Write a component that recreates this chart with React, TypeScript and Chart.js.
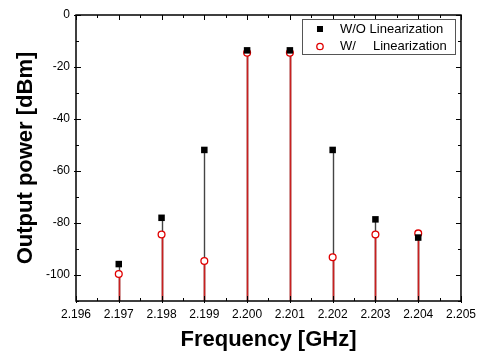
import React, { useEffect, useRef } from "react";
import { Chart, registerables } from "chart.js";
Chart.register(...registerables);

const frequencies = [2.197, 2.198, 2.199, 2.2, 2.201, 2.202, 2.203, 2.204];
const withoutLin = [-95.8, -78, -51.9, -13.6, -13.6, -51.9, -78.6, -85.6];
const withLin = [-99.6, -84.4, -94.6, -14.5, -14.5, -93.2, -84.4, -84.0];
const xTicks = [2.196, 2.197, 2.198, 2.199, 2.2, 2.201, 2.202, 2.203, 2.204, 2.205];
const yTicks = [-100, -80, -60, -40, -20, 0];
const xMinorTicks = [2.1965, 2.1975, 2.1985, 2.1995, 2.2005, 2.2015, 2.2025, 2.2035, 2.2045];
const yMinorTicks = [-110, -90, -70, -50, -30, -10];
const seriesLabels = ["W/O Linearization", "W/    Linearization"];
const X_MIN = 2.196, X_MAX = 2.205, Y_MIN = -110, Y_MAX = 0;

const BLACK = "#000000";
const RED = "#e00000";
const STEM_RED = "#c82020";
const FONT = "'Liberation Sans', Arial, sans-serif";

const framePlugin = {
  id: "frame",
  beforeDatasetsDraw(chart: any) {
    const { ctx } = chart;
    const xs = chart.scales.x;
    const ys = chart.scales.y;
    const base = ys.getPixelForValue(Y_MIN);
    ctx.save();
    ctx.strokeStyle = "#444444";
    ctx.lineWidth = 1.4;
    frequencies.forEach((f, i) => {
      const px = Math.round(xs.getPixelForValue(f)) + 0.5;
      ctx.beginPath();
      ctx.moveTo(px, base);
      ctx.lineTo(px, ys.getPixelForValue(withoutLin[i]));
      ctx.stroke();
    });
    ctx.strokeStyle = STEM_RED;
    ctx.lineWidth = 1.7;
    frequencies.forEach((f, i) => {
      const px = Math.round(xs.getPixelForValue(f)) + 0.5;
      ctx.beginPath();
      ctx.moveTo(px, base);
      ctx.lineTo(px, ys.getPixelForValue(withLin[i]));
      ctx.stroke();
    });
    ctx.restore();
  },
  afterDraw(chart: any) {
    const { ctx, chartArea: a } = chart;
    const xs = chart.scales.x;
    const ys = chart.scales.y;
    ctx.save();
    ctx.strokeStyle = BLACK;
    ctx.lineWidth = 1.5;
    ctx.strokeRect(a.left, a.top, a.right - a.left, a.bottom - a.top);
    ctx.lineWidth = 1;
    const vt = (x: number, y0: number, y1: number) => {
      const px = Math.round(x) + 0.5;
      ctx.beginPath(); ctx.moveTo(px, y0); ctx.lineTo(px, y1); ctx.stroke();
    };
    const ht = (y: number, x0: number, x1: number) => {
      const py = Math.round(y) + 0.5;
      ctx.beginPath(); ctx.moveTo(x0, py); ctx.lineTo(x1, py); ctx.stroke();
    };
    xTicks.forEach((v) => {
      const px = xs.getPixelForValue(v);
      vt(px, a.bottom + 2, a.bottom - 5);
      vt(px, a.top, a.top + 5);
    });
    xMinorTicks.forEach((v) => {
      const px = xs.getPixelForValue(v);
      vt(px, a.bottom, a.bottom - 3);
      vt(px, a.top, a.top + 3);
    });
    yTicks.forEach((v) => {
      const py = ys.getPixelForValue(v);
      ht(py, a.left - 2, a.left + 5);
      ht(py, a.right, a.right - 5);
    });
    yMinorTicks.forEach((v) => {
      const py = ys.getPixelForValue(v);
      ht(py, a.left, a.left + 3);
      ht(py, a.right, a.right - 3);
    });
    // legend
    const bx = a.right - 159, by = a.top + 4, bw = 153, bh = 35;
    ctx.strokeStyle = "#555";
    ctx.lineWidth = 1;
    ctx.strokeRect(Math.round(bx) + 0.5, Math.round(by) + 0.5, bw, bh);
    ctx.font = `13px ${FONT}`;
    ctx.textBaseline = "middle";
    ctx.fillStyle = BLACK;
    const r1 = by + 10, r2 = by + 27.5;
    ctx.fillRect(bx + 15, r1 - 3, 6, 6);
    ctx.fillText(seriesLabels[0], bx + 38, r1);
    ctx.beginPath();
    ctx.arc(bx + 18, r2, 3.2, 0, Math.PI * 2);
    ctx.fillStyle = "#fff";
    ctx.fill();
    ctx.strokeStyle = RED;
    ctx.lineWidth = 1.3;
    ctx.stroke();
    ctx.fillStyle = BLACK;
    ctx.fillText("W/", bx + 38, r2);
    ctx.fillText("Linearization", bx + 71, r2);
    ctx.restore();
  },
};

export default function App() {
  const ref = useRef<HTMLCanvasElement | null>(null);
  useEffect(() => {
    if (!ref.current) return;
    const chart = new Chart(ref.current, {
      type: "scatter",
      data: {
        datasets: [
          {
            label: seriesLabels[0],
            data: frequencies.map((f, i) => ({ x: f, y: withoutLin[i] })),
            pointStyle: "rect",
            pointRadius: 4.6,
            backgroundColor: BLACK,
            borderColor: BLACK,
            borderWidth: 0,
          },
          {
            label: seriesLabels[1],
            data: frequencies.map((f, i) => ({ x: f, y: withLin[i] })),
            pointStyle: "circle",
            pointRadius: 3.4,
            backgroundColor: "#ffffff",
            borderColor: RED,
            borderWidth: 1.3,
          },
        ],
      },
      options: {
        responsive: false,
        animation: false,
        layout: { padding: { left: 8, top: 15, right: 19, bottom: 0 } },
        plugins: { legend: { display: false }, tooltip: { enabled: false } },
        scales: {
          x: {
            type: "linear",
            min: X_MIN,
            max: X_MAX,
            afterBuildTicks: (s: any) => { s.ticks = xTicks.map((v) => ({ value: v })); },
            afterFit: (s: any) => { s.height = 55; },
            grid: { display: false, drawTicks: false },
            border: { display: false },
            ticks: {
              color: "#000",
              font: { family: FONT, size: 12 },
              padding: 6,
              maxRotation: 0,
              autoSkip: false,
              callback: (v: any) => Number(v).toFixed(3),
            },
            title: {
              display: true,
              text: "Frequency [GHz]",
              color: "#000",
              font: { family: FONT, size: 22, weight: "bold" },
              padding: { top: 0, bottom: 3 },
            },
          },
          y: {
            type: "linear",
            min: Y_MIN,
            max: Y_MAX,
            afterBuildTicks: (s: any) => { s.ticks = yTicks.map((v) => ({ value: v })); },
            afterFit: (s: any) => { s.width = 68; },
            grid: { display: false, drawTicks: false },
            border: { display: false },
            ticks: {
              color: "#000",
              font: { family: FONT, size: 12 },
              padding: 6,
              autoSkip: false,
            },
            title: {
              display: true,
              text: "Output power [dBm]",
              color: "#000",
              font: { family: FONT, size: 22, weight: "bold" },
              padding: { top: 5, bottom: 0 },
            },
          },
        },
      },
      plugins: [framePlugin],
    });
    return () => chart.destroy();
  }, []);
  return (
    <canvas
      ref={ref}
      width={482}
      height={356}
      style={{ position: "absolute", left: 0, top: 0, width: 482, height: 356 }}
    />
  );
}
